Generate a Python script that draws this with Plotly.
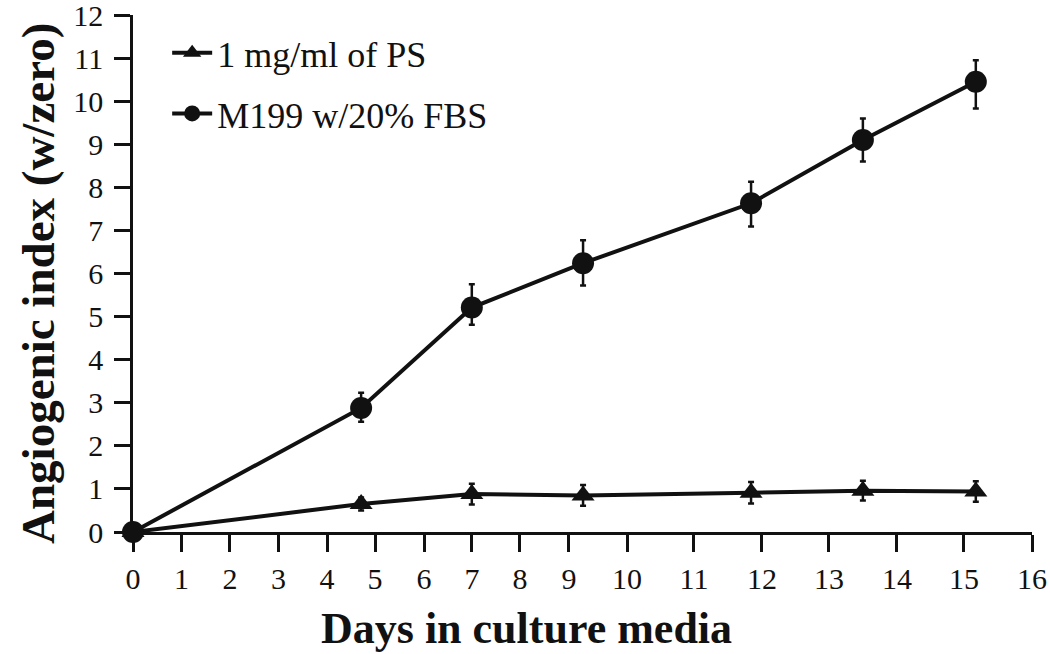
import plotly.graph_objects as go

# Tick labels of the x axis and their positions on the (uniform) plot scale
day_tick_labels = [str(d) for d in range(17)]
day_tick_pos = [0, 0.863, 1.726, 2.589, 3.453, 4.307, 5.179, 6.033, 6.887, 7.759,
                8.792, 9.984, 11.194, 12.387, 13.597, 14.789, 16]

# Data (x on the plot scale)
x_points = [0, 4.06, 6.03, 8.01, 11.0, 12.99, 15.0]

ps_name = "1 mg/ml of PS"
ps_y = [0, 0.65, 0.88, 0.85, 0.91, 0.96, 0.94]
ps_err = [0, 0.15, 0.24, 0.24, 0.25, 0.23, 0.24]

m199_name = "M199 w/20% FBS"
m199_y = [0, 2.88, 5.21, 6.24, 7.63, 9.10, 10.45]
m199_err_plus = [0, 0.35, 0.54, 0.53, 0.50, 0.50, 0.50]
m199_err_minus = [0, 0.32, 0.40, 0.52, 0.54, 0.50, 0.62]

y_tick_vals = list(range(13))

x_title = "Days in culture media"
y_title = "Angiogenic index (w/zero)"

INK = "#111111"
FONT = "Liberation Serif"

fig = go.Figure()
fig.add_trace(go.Scatter(
    x=x_points, y=ps_y, name=ps_name, mode="lines+markers",
    line=dict(color=INK, width=4),
    marker=dict(symbol="triangle-up", size=20, color=INK),
    error_y=dict(type="data", array=ps_err, color=INK, thickness=2.5, width=3),
    cliponaxis=False, legendgroup="a",
))
fig.add_trace(go.Scatter(
    x=x_points, y=m199_y, name=m199_name, mode="lines+markers",
    line=dict(color=INK, width=4),
    marker=dict(symbol="circle", size=22, color=INK),
    error_y=dict(type="data", symmetric=False, array=m199_err_plus,
                 arrayminus=m199_err_minus, color=INK, thickness=2.5, width=3),
    cliponaxis=False, legendgroup="b",
))

fig.add_annotation(
    text="<b>" + x_title + "</b>", xref="paper", yref="paper",
    x=0.438, y=-0.186, xanchor="center", yanchor="middle", showarrow=False,
    font=dict(size=44, family=FONT, color=INK),
)
fig.add_annotation(
    text="<b>" + y_title + "</b>", xref="paper", yref="paper", textangle=-90,
    x=-0.1057, y=0.4816, xanchor="center", yanchor="middle", showarrow=False,
    font=dict(size=47, family=FONT, color=INK),
)

fig.update_layout(
    width=1050, height=654,
    margin=dict(l=133, r=18, t=15, b=122, autoexpand=False),
    paper_bgcolor="white", plot_bgcolor="white",
    font=dict(family=FONT, color=INK, size=30),
    showlegend=True,
    legend=dict(x=0.038, y=0.985, xanchor="left", yanchor="top",
                font=dict(size=36, family=FONT, color=INK),
                bgcolor="rgba(0,0,0,0)", tracegroupgap=11, itemwidth=40,
                traceorder="grouped"),
    xaxis=dict(
        range=[0, 16], tickmode="array", tickvals=day_tick_pos, ticktext=day_tick_labels,
        showgrid=False, zeroline=False, showline=True, linecolor=INK, linewidth=2.5,
        ticks="outside", ticklen=17, tickwidth=2.5, tickcolor=INK,
        ticklabelstandoff=1, ticklabeloverflow="allow",
        tickfont=dict(size=30, family=FONT, color=INK),
        automargin=False,
    ),
    yaxis=dict(
        range=[0, 12], tickmode="array", tickvals=y_tick_vals,
        showgrid=False, zeroline=False, showline=True, linecolor=INK, linewidth=2.5,
        ticks="outside", ticklen=16, tickwidth=2.5, tickcolor=INK,
        ticklabelstandoff=5, ticklabeloverflow="allow",
        tickfont=dict(size=30, family=FONT, color=INK),
        automargin=False,
    ),
)

fig.write_html("out.html", config={"displayModeBar": False},
               post_script="document.body.style.margin='0';")
